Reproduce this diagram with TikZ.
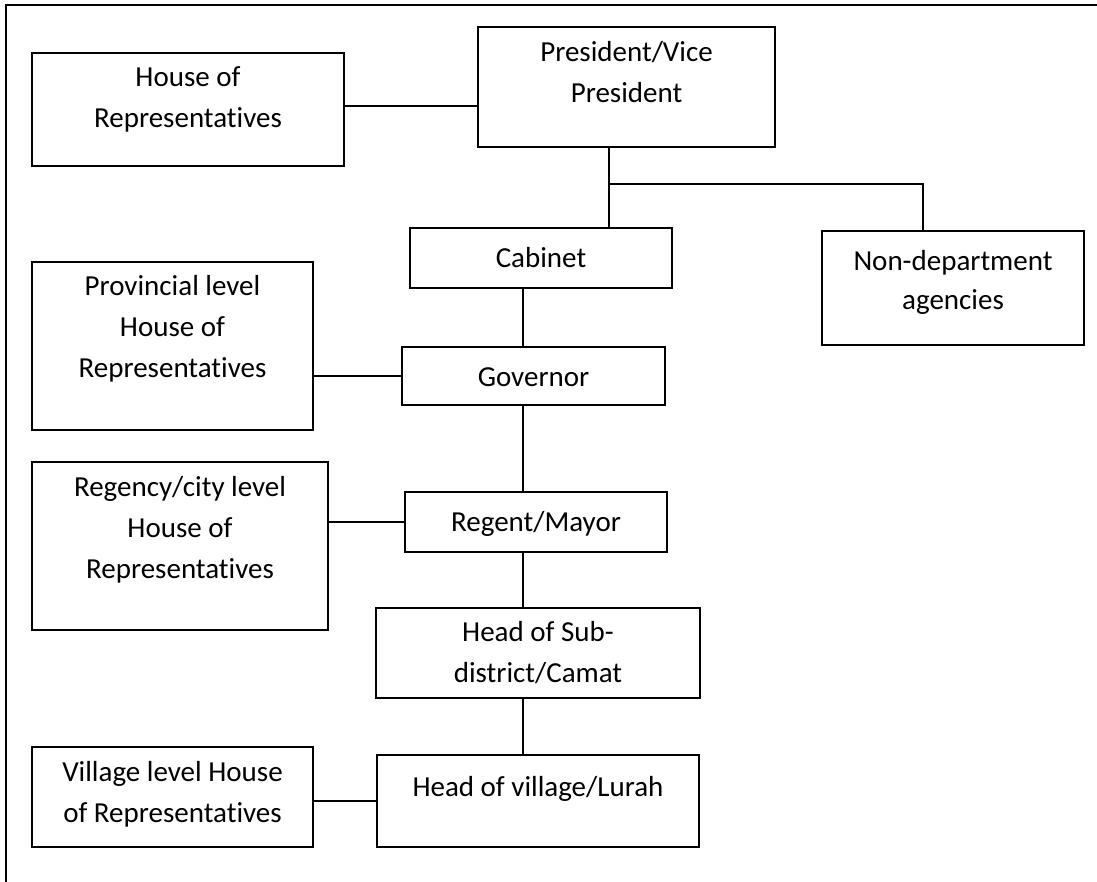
\documentclass[tikz,border=0pt]{standalone}
\usepackage{fontspec}
\setmainfont[Ligatures=NoCommon]{Carlito}
\begin{document}
\begin{tikzpicture}[x=1pt,y=-1pt,
  box/.style={draw, line width=2.6pt, rectangle, inner sep=0pt},
  lbl/.style={inner sep=0pt, anchor=north, align=center,
    font=\fontsize{29}{41}\selectfont,
    execute at begin node={\rule{0pt}{25pt}}},
  link/.style={line width=1.8pt},
  frame/.style={line width=2.2pt}]
\useasboundingbox (0,0) rectangle (1097,882);
% outer frame (top and left edges)
\draw[frame] (6,882) -- (6,5) -- (1097,5);

% boxes
\node[box, minimum width=312, minimum height=113] (house)  at (188,109.5) {};
\node[box, minimum width=297, minimum height=120] (pres)   at (626.5,87) {};
\node[box, minimum width=262, minimum height=60]  (cab)    at (541,258) {};
\node[box, minimum width=262, minimum height=114] (nd)     at (953,288) {};
\node[box, minimum width=281, minimum height=168] (prov)   at (172.5,346) {};
\node[box, minimum width=263, minimum height=58]  (gov)    at (533.5,376) {};
\node[box, minimum width=296, minimum height=168] (regy)   at (180,546) {};
\node[box, minimum width=262, minimum height=60]  (regent) at (536,522) {};
\node[box, minimum width=324, minimum height=90]  (sub)    at (538,653) {};
\node[box, minimum width=281, minimum height=100] (vlev)   at (172.5,797) {};
\node[box, minimum width=322, minimum height=92]  (vhead)  at (538,801) {};

% labels
\node[lbl] (house-t)  at (188,66)    {House of\\Representatives};
\node[lbl] (pres-t)   at (626.5,41)  {President/Vice\\President};
\node[lbl] (cab-t)    at (541,242)   {Cabinet};
\node[lbl, font=\fontsize{29}{39}\selectfont] (nd-t) at (953,250) {Non-department\\agencies};
\node[lbl] (prov-t)   at (172.5,275) {Provincial level\\House of\\Representatives};
\node[lbl] (gov-t)    at (533.5,361) {Governor};
\node[lbl] (regy-t)   at (180,476)   {Regency/city level\\House of\\Representatives};
\node[lbl] (regent-t) at (536,506)   {Regent/Mayor};
\node[lbl] (sub-t)    at (538,621)   {Head of Sub-\\district/Camat};
\node[lbl] (vlev-t)   at (172.5,761) {Village level House\\of Representatives};
\node[lbl] (vhead-t)  at (538,771)   {Head of village/Lurah};

% connector routing points
\coordinate (hp) at (0,106);
\coordinate (j1) at (609,184);
\coordinate (j2) at (923,184);
\coordinate (spine) at (523,0);

% connectors
\draw[link] (house.east |- hp) -- (pres.west |- hp);
\draw[link] (pres.south -| j1) -- (cab.north -| j1);
\draw[link] (j1) -- (j2) -- (nd.north -| j2);
\draw[link] (cab.south -| spine) -- (gov.north -| spine);
\draw[link] (prov.east |- gov.west) -- (gov.west);
\draw[link] (gov.south -| spine) -- (regent.north -| spine);
\draw[link] (regy.east |- regent.west) -- (regent.west);
\draw[link] (regent.south -| spine) -- (sub.north -| spine);
\draw[link] (sub.south -| spine) -- (vhead.north -| spine);
\draw[link] (vlev.east |- vhead.west) -- (vhead.west);
\end{tikzpicture}
\end{document}
